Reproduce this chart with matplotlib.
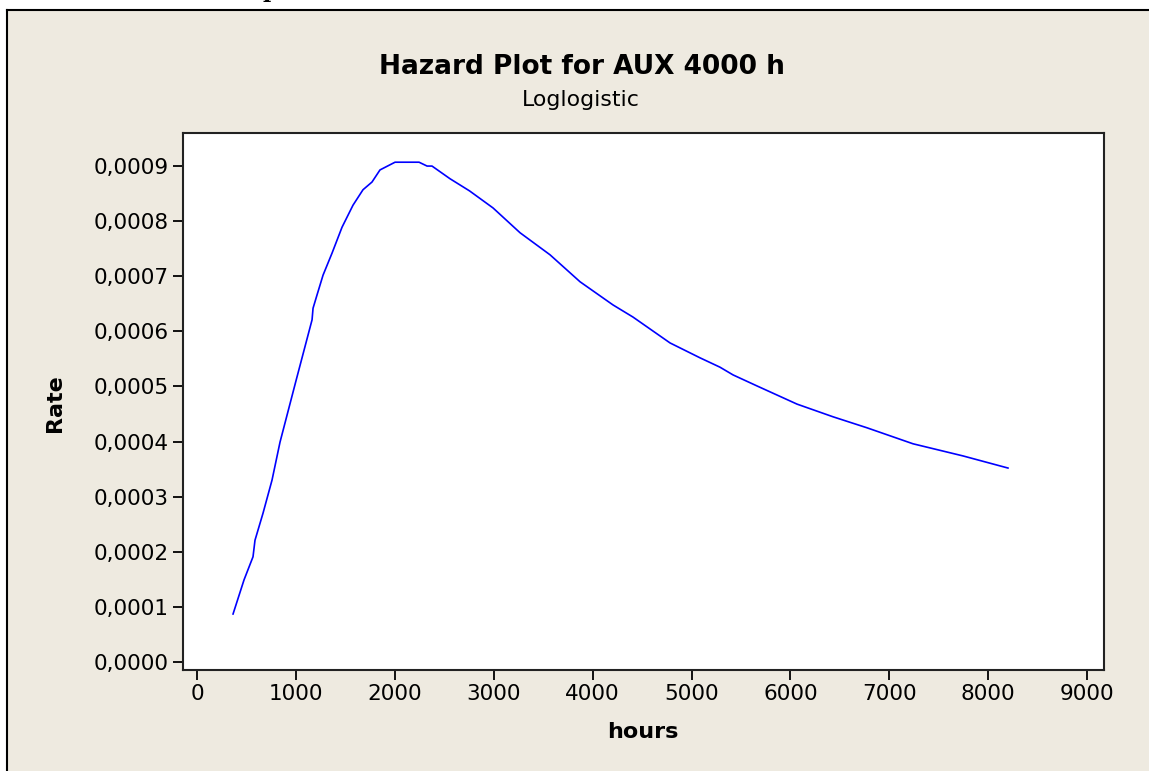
import numpy as np
import matplotlib
matplotlib.use("Agg")
import matplotlib.pyplot as plt
from matplotlib.patches import Rectangle

# Hazard curve (hours, rate)
hours = [364, 475, 566, 586, 667, 758, 839, 1000, 1163, 1173, 1213, 1274,
         1365, 1466, 1577, 1678, 1769, 1850, 2002, 2245, 2326, 2376, 2558,
         2755, 2993, 3266, 3569, 3873, 4206, 4408, 4783, 5086, 5288, 5420,
         5662, 6067, 6431, 6775, 7240, 7745, 8200]
rate = [0.0000871, 0.000149, 0.000191, 0.000221, 0.000270, 0.000330,
        0.000399, 0.000510, 0.000621, 0.000642, 0.000666, 0.000702,
        0.000742, 0.000789, 0.000829, 0.000857, 0.000871, 0.000893,
        0.000907, 0.000907, 0.000900, 0.000900, 0.000877, 0.000855,
        0.000824, 0.000779, 0.000739, 0.000690, 0.000648, 0.000626,
        0.000579, 0.000552, 0.000535, 0.000521, 0.000501, 0.000468,
        0.000445, 0.000425, 0.000396, 0.000374, 0.000352]

xticks = np.arange(0, 9001, 1000)
yticks = np.arange(0, 0.00091, 0.0001)

W, H = 1149, 771
bg = "#eeeae0"

fig = plt.figure(figsize=(W / 100, H / 100), dpi=100)
fig.patch.set_facecolor("white")

# beige panel with black left/top border
fig.add_artist(Rectangle((7 / W, 0), 1, 1 - 10 / H, transform=fig.transFigure,
                         facecolor=bg, edgecolor="none", zorder=-10))
fig.add_artist(plt.Line2D([7 / W, 7 / W], [0, 1 - 10 / H], color="black", lw=1.5,
                          transform=fig.transFigure, zorder=-5))
fig.add_artist(plt.Line2D([7 / W, 1], [1 - 10 / H, 1 - 10 / H], color="black", lw=1.5,
                          transform=fig.transFigure, zorder=-5))

# leftover of the document text cut off at the top edge
fig.text(270 / W, 1 + 3 / H, "p", ha="center", va="baseline", fontsize=16,
         fontweight="bold", family="serif")

ax = fig.add_axes([183 / W, 101 / H, (1104 - 183) / W, (670 - 133) / H])
ax.set_zorder(1)
ax.set_facecolor("white")
ax.plot(hours, rate, color="#0000ff", lw=1.2)

ax.set_xlim(-142, 9171)
ax.set_ylim(-0.0000145, 0.00096)
ax.set_xticks(xticks)
ax.set_yticks(yticks)
ax.set_xticklabels([str(int(v)) for v in xticks])
ax.set_yticklabels([f"{v:.4f}".replace(".", ",") for v in yticks])
ax.tick_params(direction="out", length=7.2, width=1.3, labelsize=15.5, pad=3,
               colors="black")
for s in ax.spines.values():
    s.set_linewidth(1.5)
    s.set_color("#222222")

fig.text(582 / W, 1 - 67 / H, "Hazard Plot for AUX 4000 h", ha="center", va="center",
         fontsize=19, fontweight="bold")
fig.text(581 / W, 1 - 100 / H, "Loglogistic", ha="center", va="center", fontsize=15.8)
fig.text(55 / W, 1 - 403 / H, "Rate", ha="center", va="center", rotation=90,
         fontsize=16, fontweight="bold")
fig.text(643 / W, 1 - 732 / H, "hours", ha="center", va="center",
         fontsize=16, fontweight="bold")

fig.savefig("out.png", dpi=100, facecolor=fig.get_facecolor())
